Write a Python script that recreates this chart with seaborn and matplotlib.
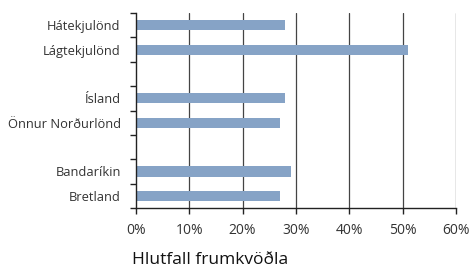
import numpy as np
import pandas as pd
import matplotlib
matplotlib.use("Agg")
import matplotlib.pyplot as plt
import seaborn as sns

# Gögn
flokkar = ["Hátekjulönd", "Lágtekjulönd", "Ísland", "Önnur Norðurlönd", "Bandaríkin", "Bretland"]
hlutfall = [28, 51, 28, 27, 29, 27]
# röð með auðum bilum milli hópa
rod = ["Hátekjulönd", "Lágtekjulönd", " ", "Ísland", "Önnur Norðurlönd", "  ", "Bandaríkin", "Bretland"]
x_ticks = [0, 10, 20, 30, 40, 50, 60]

df = pd.DataFrame({"flokkur": flokkar, "hlutfall": hlutfall})

sns.set_style("white")
plt.rcParams['font.family'] = ['Open Sans', 'DejaVu Sans']

fig = plt.figure(figsize=(4.72, 2.68), dpi=100)
ax = fig.add_axes([0.288, 0.224, 0.678, 0.727])

sns.barplot(data=df, y="flokkur", x="hlutfall", order=rod, orient="h", color="#86a3c6",
            saturation=1, width=0.42, linewidth=0, ax=ax)

ax.set_xlim(0, 60)
ax.set_ylim(7.5, -0.5)
ax.set_xticks(x_ticks)
ax.set_xticklabels([f"{v}%" for v in x_ticks], fontsize=10, color="#333333")
ax.set_yticks(range(len(rod)))
ax.set_yticklabels(rod, fontsize=9.3, color="#333333")
ax.set_yticks(np.arange(-0.5, len(rod), 1), minor=True)
ax.tick_params(axis="y", which="major", left=False, length=0, pad=11)
ax.tick_params(axis="y", which="minor", left=True, length=4, width=1, color="#222222", direction="out")
ax.tick_params(axis="x", which="major", bottom=True, length=4, width=1, color="#222222", pad=7)

# lóðréttar hnitalínur
for v in x_ticks[1:]:
    ax.axvline(v, color="#444444", lw=0.9, zorder=0)

for s in ["top", "right"]:
    ax.spines[s].set_visible(False)
for s in ["left", "bottom"]:
    ax.spines[s].set_color("#222222")
    ax.spines[s].set_linewidth(1)

ax.set_ylabel("")
ax.set_xlabel("Hlutfall frumkvöðla", fontsize=12.5, color="#111111")
ax.xaxis.set_label_coords(-0.013, -0.225)
ax.xaxis.label.set_horizontalalignment("left")

fig.savefig("out.png", dpi=100)
